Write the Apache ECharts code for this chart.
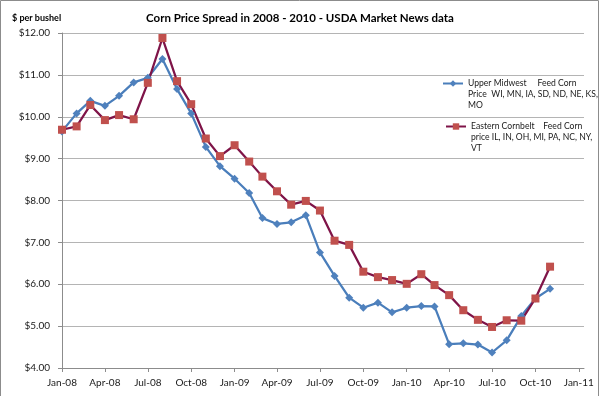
<!DOCTYPE html>
<html>
<head>
<meta charset="utf-8">
<script src="https://cdn.jsdelivr.net/npm/echarts@6/dist/echarts.min.js"></script>
<style>
  html, body { margin: 0; padding: 0; background: #fff; }
  #chart { width: 600px; height: 396px; }
</style>
</head>
<body>
<div id="chart"></div>
<script>
// monthly USDA readings, first of each month
const months = [
  '2008-01-01', '2008-02-01', '2008-03-01', '2008-04-01', '2008-05-01', '2008-06-01',
  '2008-07-01', '2008-08-01', '2008-09-01', '2008-10-01', '2008-11-01', '2008-12-01',
  '2009-01-01', '2009-02-01', '2009-03-01', '2009-04-01', '2009-05-01', '2009-06-01',
  '2009-07-01', '2009-08-01', '2009-09-01', '2009-10-01', '2009-11-01', '2009-12-01',
  '2010-01-01', '2010-02-01', '2010-03-01', '2010-04-01', '2010-05-01', '2010-06-01',
  '2010-07-01', '2010-08-01', '2010-09-01', '2010-10-01', '2010-11-01'
]
const upperMidwest = [
  9.65, 10.08, 10.38, 10.26, 10.50, 10.82, 10.93, 11.38, 10.66, 10.08, 9.28, 8.82,
  8.52, 8.18, 7.58, 7.44, 7.48, 7.65, 6.76, 6.20, 5.68, 5.44, 5.56, 5.33,
  5.44, 5.48, 5.47, 4.57, 4.59, 4.56, 4.37, 4.66, 5.24, 5.66, 5.89
]
const easternCornbelt = [
  9.69, 9.77, 10.28, 9.92, 10.04, 9.94, 10.81, 11.88, 10.85, 10.30, 9.48, 9.06,
  9.32, 8.93, 8.57, 8.22, 7.90, 7.99, 7.76, 7.04, 6.94, 6.30, 6.17, 6.10,
  6.01, 6.24, 5.98, 5.74, 5.38, 5.15, 4.98, 5.14, 5.13, 5.66, 6.42
]
const axisTicks = [
  '2008-01-01', '2008-04-01', '2008-07-01', '2008-10-01',
  '2009-01-01', '2009-04-01', '2009-07-01', '2009-10-01',
  '2010-01-01', '2010-04-01', '2010-07-01', '2010-10-01', '2011-01-01'
]
const monthNames = ['Jan', 'Feb', 'Mar', 'Apr', 'May', 'Jun', 'Jul', 'Aug', 'Sep', 'Oct', 'Nov', 'Dec']

const nameUpper = 'Upper Midwest    Feed Corn Price   WI, MN, IA, SD, ND, NE, KS, MO'
const nameEastern = 'Eastern Cornbelt    Feed Corn price IL, IN, OH, MI, PA, NC, NY, VT'
// two blank lines on top so the icon sits level with the first text line
const legendText = {
  [nameUpper]: '\n\nUpper Midwest     Feed Corn\nPrice  WI, MN, IA, SD, ND, NE, KS,\nMO',
  [nameEastern]: '\n\nEastern Cornbelt    Feed Corn\nprice IL, IN, OH, MI, PA, NC, NY,\nVT'
}

// dates as plain timestamps on a value axis
const toTime = (s) => {
  const [y, m, d] = s.split('-').map(Number)
  return new Date(y, m - 1, d).getTime()
}
const tickValues = axisTicks.map(toTime)
const font = 'Lato, "Open Sans", sans-serif'

const legendStyle = {
  fontFamily: font,
  fontSize: 8.6,
  color: '#1a1a1a',
  lineHeight: 11
}

const chart = echarts.init(document.getElementById('chart'), null, { renderer: 'canvas' })
chart.setOption({
  animation: false,
  textStyle: { fontFamily: font },
  title: {
    text: 'Corn Price Spread in 2008 - 2010 - USDA Market News data',
    left: 'center',
    top: 7,
    textStyle: { fontFamily: font, fontSize: 11.5, fontWeight: 'bold', color: '#000' }
  },
  legend: [
    {
      data: [nameUpper],
      left: 437,
      top: 51,
      orient: 'vertical',
      itemWidth: 20,
      itemHeight: 8,
      formatter: (n) => legendText[n],
      textStyle: legendStyle
    },
    {
      data: [nameEastern],
      left: 440,
      top: 94,
      orient: 'vertical',
      itemWidth: 20,
      itemHeight: 8,
      formatter: (n) => legendText[n],
      textStyle: legendStyle
    }
  ],
  grid: { left: 62, right: 16, top: 33, bottom: 28, containLabel: false },
  xAxis: {
    type: 'value',
    min: toTime('2008-01-01'),
    max: toTime('2011-01-12'),
    axisLine: { lineStyle: { color: '#8c8c8c', width: 1 } },
    axisTick: { show: true, customValues: tickValues, length: 4, lineStyle: { color: '#8c8c8c' } },
    axisLabel: {
      customValues: tickValues,
      margin: 10,
      fontFamily: font,
      fontSize: 10,
      color: '#1a1a1a',
      formatter: (v) => {
        const d = new Date(v)
        return monthNames[d.getMonth()] + '-' + String(d.getFullYear()).slice(2)
      }
    },
    splitLine: { show: false }
  },
  yAxis: {
    type: 'value',
    min: 4,
    max: 12,
    interval: 1,
    name: '$ per bushel',
    nameLocation: 'end',
    nameGap: 10,
    nameTextStyle: {
      fontFamily: font, fontSize: 9, fontWeight: 'bold', color: '#000',
      align: 'left', padding: [0, 0, 0, -50]
    },
    axisLine: { show: true, lineStyle: { color: '#8c8c8c', width: 1 } },
    axisTick: { show: true, length: 4, lineStyle: { color: '#8c8c8c' } },
    axisLabel: {
      margin: 12,
      fontFamily: font,
      fontSize: 10,
      color: '#1a1a1a',
      formatter: (v) => '$' + v.toFixed(2)
    },
    splitLine: { lineStyle: { color: '#b4b4b4', width: 1 } }
  },
  series: [
    {
      name: nameUpper,
      type: 'line',
      data: months.map((m, i) => [toTime(m), upperMidwest[i]]),
      symbol: 'diamond',
      symbolSize: 8,
      lineStyle: { color: '#4a7ebb', width: 2.25 },
      itemStyle: { color: '#4f81bd', borderWidth: 0 },
      color: '#4a7ebb'
    },
    {
      name: nameEastern,
      type: 'line',
      data: months.map((m, i) => [toTime(m), easternCornbelt[i]]),
      symbol: 'rect',
      symbolSize: 8,
      lineStyle: { color: '#7f1448', width: 2.25 },
      itemStyle: { color: '#c0504d', borderWidth: 0 },
      color: '#c0504d'
    }
  ],
  graphic: [
    {
      type: 'rect',
      silent: true,
      shape: { x: 0.5, y: 0.5, width: 598, height: 397 },
      style: { fill: 'none', stroke: '#8c8c8c', lineWidth: 1 }
    }
  ]
})
</script>
</body>
</html>
